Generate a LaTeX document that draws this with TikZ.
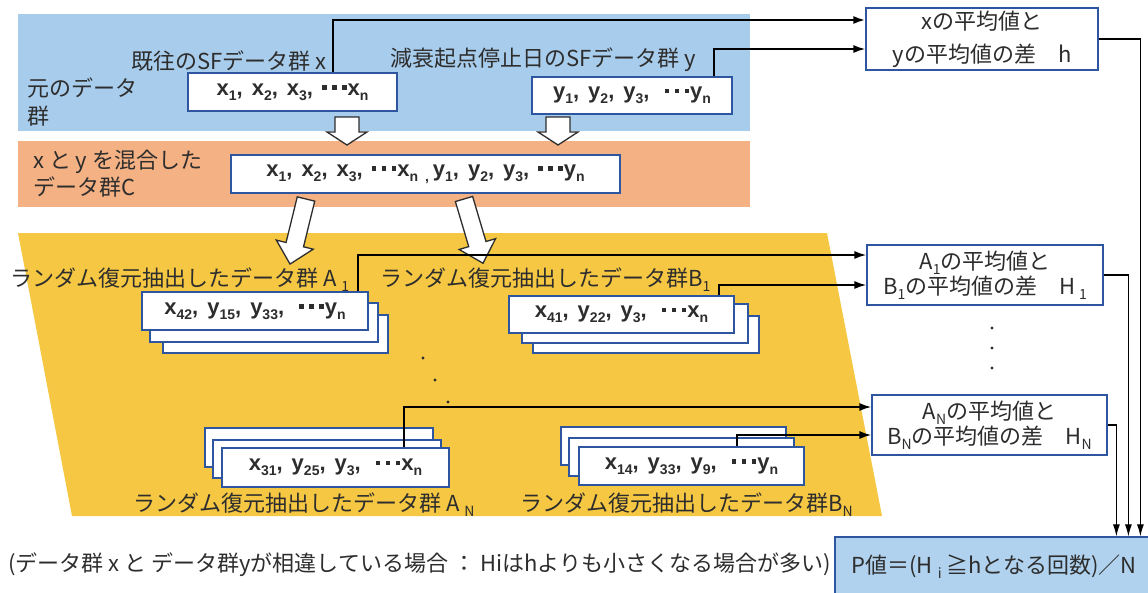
\documentclass[tikz,border=0pt]{standalone}
\usepackage{fontspec}
\setmainfont{Noto Sans CJK JP}
\newfontfamily\arb{Liberation Sans}
\usetikzlibrary{arrows.meta}
\definecolor{txt}{RGB}{45,45,45}
\definecolor{boxblue}{RGB}{45,85,160}
\definecolor{bandblue}{RGB}{168,204,235}
\definecolor{bandorange}{RGB}{244,177,131}
\definecolor{bandyellow}{RGB}{245,199,67}
\definecolor{pblue}{RGB}{176,210,238}
\newcommand\lo[1]{\raisebox{-5pt}{\fontsize{14}{14}\selectfont #1}}
\newcommand\sq{\rule[5.5pt]{4.5pt}{4.5pt}}
\newcommand\dts{\sq\hspace{5.5pt}\sq\hspace{5.5pt}\sq\hspace{1pt}}
\newcommand\cs{,\hspace{9pt}}
\tikzset{
  lbl/.style={font=\fontsize{22}{22}\selectfont, text=txt, inner sep=0pt},
  databox/.style={draw=boxblue, line width=1.2pt, fill=white, inner sep=0pt,
    font=\arb\bfseries\fontsize{22}{22}\selectfont, text=txt},
  backbox/.style={draw=boxblue, line width=1.2pt, fill=white},
  resbox/.style={draw=boxblue, line width=1.2pt, fill=white, align=center, inner sep=0pt,
    font=\fontsize{22}{25}\selectfont, text=txt},
  conn/.style={line width=1.8pt, -{Latex[length=12pt,width=8pt]}},
  outl/.style={line width=1.1pt, -{Latex[length=12pt,width=7pt]}},
  blkstyle/.style={fill=white, draw=txt, line width=1.3pt, line join=miter},
  pics/blk/.style n args={4}{code={
    \draw[blkstyle] (-#2,0) -- (#2,0) -- (#2,{#1-#4}) -- (#3,{#1-#4}) -- (0,#1)
      -- (-#3,{#1-#4}) -- (-#2,{#1-#4}) -- cycle;}},
  dot/.style={fill=txt, circle, inner sep=0pt, minimum size=3.2pt}
}
\begin{document}
\begin{tikzpicture}[x=1pt,y=-1pt]
\useasboundingbox (0,0) rectangle (1148,592);
% bands
\fill[bandblue] (18,14) rectangle (750,131);
\fill[bandorange] (18,141) rectangle (750,207);
\fill[bandyellow] (18,233) -- (827,233) -- (882,516) -- (72,516) -- cycle;

% top data boxes
\node[databox, minimum width=209pt, minimum height=38pt] (xbox) at (292.5,92)
  {x\lo{1}\cs x\lo{2}\cs x\lo{3}\cs\dts x\lo{n}};
\node[databox, minimum width=200pt, minimum height=37pt] (ybox) at (632,95.5)
  {y\lo{1}\cs y\lo{2}\cs y\lo{3}\cs\ \dts y\lo{n}};
\node[lbl, anchor=east] (lx) at (327,61) {既往のSFデータ群 x};
\node[lbl, anchor=west] (ly) at (390,60) {減衰起点停止日のSFデータ群 y};
\node[lbl, anchor=west] (lo1) at (27,88) {元のデータ};
\node[lbl, anchor=west] (lo2) at (27,116) {群};

% mixed
\node[databox, minimum width=389pt, minimum height=38pt] (cbox) at (425.5,174)
  {x\lo{1}\cs x\lo{2}\cs x\lo{3}\cs\dts x\lo{n}\hspace{7pt}\lo{,}\hspace{4pt}y\lo{1}\cs y\lo{2}\cs y\lo{3}\cs\dts y\lo{n}};
\node[lbl, anchor=west] (lc1) at (33,162) {x と y を混合した};
\node[lbl, anchor=west] (lc2) at (33,187) {データ群C};

% block arrows
\pic at (347,117) {blk={28}{12}{20}{13}};
\pic at (558,117) {blk={28}{12}{20}{13}};
\pic[rotate=-13.8] at (306,199) {blk={67}{9}{19}{20}};
\pic[rotate=16.5] at (464,199) {blk={67}{9}{19}{20}};

% result boxes
\node[resbox, minimum width=232pt, minimum height=62pt, font=\fontsize{22}{33}\selectfont] (hbox) at (982,39)
  {xの平均値と\\yの平均値の差　h};
\node[resbox, minimum width=236pt, minimum height=60pt] (h1) at (985,275)
  {A\lo{1}の平均値と\\B\lo{1}の平均値の差　H\,\lo{1}};
\node[resbox, minimum width=235pt, minimum height=60pt] (hn) at (989.5,425)
  {A\lo{N}の平均値と\\B\lo{N}の平均値の差　H\lo{N}};
\node[dot] (v1) at (992,328) {};
\node[dot] (v2) at (992,348) {};
\node[dot] (v3) at (992,368) {};

% sample labels
\node[lbl, anchor=west] (la1) at (10,280) {ランダム復元抽出したデータ群 A \lo{1}};
\node[lbl, anchor=west] (lb1) at (380,280) {ランダム復元抽出したデータ群B\lo{1}};
\node[lbl, anchor=west] (lan) at (133,505) {ランダム復元抽出したデータ群 A \lo{N}};
\node[lbl, anchor=west] (lbn) at (520,505) {ランダム復元抽出したデータ群B\lo{N}};

% stacks A1
\draw[backbox] (163,315) rectangle (388,353);
\draw[backbox] (150,303) rectangle (378,342);
\node[databox, minimum width=226pt, minimum height=38pt] (a1) at (255,311)
  {x\lo{42}\cs y\lo{15}\cs y\lo{33}\cs\ \dts y\lo{n}};
% stack B1
\draw[backbox] (533,316) rectangle (759,353);
\draw[backbox] (522,304) rectangle (748,343);
\node[databox, minimum width=225pt, minimum height=37pt] (b1) at (621.5,314.5)
  {x\lo{41}\cs y\lo{22}\cs y\lo{3}\cs\ \dts x\lo{n}};
% stack AN
\draw[backbox] (205,428) rectangle (433,467);
\draw[backbox] (213,440) rectangle (441,478);
\node[databox, minimum width=227pt, minimum height=39pt] (an) at (335.5,467.5)
  {x\lo{31}\cs y\lo{25}\cs y\lo{3}\cs\ \dts x\lo{n}};
% stack BN
\draw[backbox] (561,427) rectangle (786,465);
\draw[backbox] (569,438) rectangle (794,476);
\node[databox, minimum width=225pt, minimum height=38pt] (bn) at (691.5,466)
  {x\lo{14}\cs y\lo{33}\cs y\lo{9}\cs\ \dts y\lo{n}};

% middle dots
\node[dot] (m1) at (423,358) {};
\node[dot] (m2) at (435,380) {};
\node[dot] (m3) at (448,402) {};

% P box and note
\node[draw=boxblue, line width=1.2pt, fill=pblue, minimum width=325pt, minimum height=63pt,
  inner sep=0pt] (pbox) at (997.5,568.5) {};
\node[lbl] (ptxt) at (994,567) {P値＝(H \lo{i} ≧hとなる回数)／N};
\node[lbl, anchor=west] (note) at (8,565)
  {(データ群 x と データ群yが相違している場合 ： Hiはhよりも小さくなる場合が多い)};

% connectors
\draw[conn, line width=2.2pt] ([xshift=-65pt]xbox.north east) |- ([yshift=19pt]hbox.west);
\draw[conn] ([xshift=-19pt]ybox.north east) |- ([yshift=-10pt]hbox.west);
\draw[conn] ([xshift=-11pt]a1.north east) |- ([yshift=20pt]h1.west);
\draw[conn] ([xshift=-16pt]b1.north east) |- ([yshift=-10pt]h1.west);
\draw[conn] ([xshift=-46pt]an.north east) |- ([yshift=18pt]hn.west);
\draw[conn] ([xshift=-68pt]bn.north east) |- ([yshift=-10pt]hn.west);
% outputs
\draw[outl] (hbox.east) -| ([xshift=306pt]pbox.north west);
\draw[outl] (h1.east) -| ([xshift=294pt]pbox.north west);
\draw[outl] (hn.east) -| ([xshift=282pt]pbox.north west);
\end{tikzpicture}
\end{document}
